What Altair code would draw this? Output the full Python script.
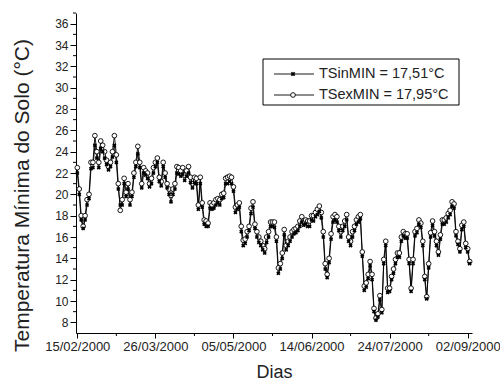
import json
import altair as alt
import pandas as pd

# ---- data ----
tick_days = [0, 40, 80, 120, 160, 200]
tick_labels = ["15/02/2000", "26/03/2000", "05/05/2000", "14/06/2000", "24/07/2000", "02/09/2000"]
minor_x = [20, 60, 100, 140, 180]
y_ticks = list(range(8, 37, 2))
minor_y = list(range(9, 38, 2))
series_names = ["TSinMIN = 17,51°C", "TSexMIN = 17,95°C"]

ts_ex = [
    22.5, 20.5, 18.0, 17.0, 18.0, 19.5, 20.0, 23.0, 23.0, 25.5,
    24.0, 23.0, 25.0, 24.6, 24.0, 23.2, 22.6, 23.0, 24.0, 25.5,
    23.7, 21.0, 18.5, 19.5, 21.5, 20.2, 21.0, 19.5, 20.2, 22.0,
    23.0, 24.5, 23.0, 21.0, 22.5, 22.2, 22.0, 21.0, 21.5, 22.5,
    23.0, 23.4, 21.6, 21.2, 23.0, 22.0, 21.0, 20.5, 19.9, 20.5,
    21.0, 22.6, 22.5, 22.2, 22.5, 21.8, 22.2, 22.6, 21.6, 21.0,
    21.6, 21.5, 19.0, 21.6, 19.2, 17.6, 17.5, 17.3, 19.2, 19.0,
    19.2, 19.5, 19.6, 19.5, 20.0, 20.1, 21.5, 21.6, 21.7, 21.6,
    20.7, 18.8, 19.0, 19.2, 17.0, 15.7, 15.8, 16.5, 17.0, 18.7,
    19.3, 17.2, 16.5, 16.0, 15.6, 15.2, 14.9, 16.0, 16.5, 17.4,
    17.4, 17.4, 16.0, 13.1, 13.5, 14.5, 16.7, 15.2, 15.6, 16.0,
    16.5, 16.7, 16.8, 17.0, 17.5, 17.9, 17.5, 17.6, 17.5, 17.5,
    18.0, 18.0, 18.3, 18.6, 18.9, 18.3, 16.5, 13.5, 12.5, 14.0,
    16.3, 17.9, 18.1, 17.9, 17.0, 16.5, 17.0, 17.5, 18.1, 16.0,
    15.6, 16.5, 17.0, 17.6, 17.9, 18.1, 14.6, 11.4, 11.7, 12.5,
    13.7, 12.5, 9.3, 8.4, 8.8, 10.5, 9.2, 13.9, 15.6, 11.2,
    11.2, 12.3, 13.0, 13.9, 14.5, 14.5, 16.0, 16.5, 16.3, 16.3,
    13.9, 11.2, 13.9, 16.5, 16.8, 17.6, 17.3, 15.6, 12.3, 10.4,
    13.5, 16.4, 17.5, 16.5, 15.6, 14.6, 16.2, 17.6, 17.6, 17.8,
    18.2, 18.5, 19.3, 19.1, 16.5, 15.6, 14.9, 17.1, 17.4, 15.4,
    14.9, 13.7,
]

ts_in = [
    22.0, 20.0, 17.6, 16.8, 17.6, 19.0, 19.6, 22.4, 22.5, 24.6,
    23.4, 22.5, 24.3, 24.0, 23.4, 22.8, 22.3, 22.6, 23.5, 24.6,
    23.0, 20.5, 19.0, 19.0, 21.0, 19.8, 20.5, 19.0, 19.8, 21.6,
    22.6, 23.8, 22.5, 20.6, 22.0, 21.8, 21.5, 20.7, 21.0, 22.0,
    22.6, 23.0, 21.2, 20.8, 22.6, 21.6, 20.6, 20.0, 19.3, 20.0,
    20.5, 22.0, 21.9, 21.7, 21.9, 21.3, 21.7, 22.0, 21.1, 20.6,
    21.1, 21.0, 18.6, 21.0, 18.8, 17.2, 17.0, 17.0, 18.7, 18.6,
    18.7, 19.0, 19.2, 19.0, 19.6, 19.7, 21.0, 21.0, 21.2, 21.0,
    20.3, 18.3, 18.6, 18.8, 16.5, 15.2, 15.4, 16.0, 16.6, 18.2,
    18.8, 16.8, 16.0, 15.5, 15.2, 14.8, 14.5, 15.5, 16.0, 17.0,
    17.0, 16.9, 15.6, 12.6, 13.0, 14.0, 16.2, 14.8, 15.2, 15.6,
    16.0, 16.3, 16.4, 16.6, 17.0, 17.4, 17.1, 17.2, 17.0, 17.0,
    17.6, 17.5, 17.9, 18.1, 18.4, 17.8, 16.0, 13.0, 12.2, 13.6,
    15.8, 17.4, 17.6, 17.4, 16.6, 16.0, 16.6, 17.0, 17.6, 15.6,
    15.2, 16.0, 16.6, 17.2, 17.4, 17.7, 14.2, 11.0, 11.3, 12.1,
    13.3, 12.0, 9.0, 8.2, 8.5, 10.1, 8.9, 13.5, 15.2, 10.8,
    10.9, 12.0, 12.6, 13.5, 14.1, 14.1, 15.6, 16.1, 15.9, 15.9,
    13.5, 10.9, 13.5, 16.1, 16.4, 17.2, 16.9, 15.2, 12.0, 10.2,
    13.1, 16.0, 17.1, 16.1, 15.2, 14.3, 15.8, 17.2, 17.2, 17.4,
    17.8, 18.1, 18.9, 18.7, 16.1, 15.3, 14.6, 16.7, 17.0, 15.0,
    14.6, 13.5,
]

df = pd.DataFrame({"day": list(range(len(ts_ex))), "tsex": ts_ex, "tsin": ts_in})
df_mx = pd.DataFrame({"day": minor_x})
df_my = pd.DataFrame({"tsin": minor_y})
one = pd.DataFrame({"k": [0]})

FONT = "Liberation Sans"
TXT = "#222222"

xscale = alt.Scale(domain=[-0.67, 202.2], nice=False, zero=False)
yscale = alt.Scale(domain=[7, 37], nice=False, zero=False)

label_expr = json.dumps(tick_labels) + "[round(datum.value / 40)]"

x_axis = alt.Axis(
    values=tick_days, labelExpr=label_expr, grid=False,
    tickSize=5, tickColor="black", domainColor="black",
    labelFontSize=13, labelColor=TXT, labelFont=FONT, labelPadding=2,
    title="Dias", titleFontSize=18, titleFont=FONT, titleFontWeight="normal",
    titleColor=TXT, titleBaseline="alphabetic", titleY=44, titleX=198,
)
y_axis = alt.Axis(
    values=y_ticks, grid=False,
    tickSize=6, tickColor="black", domainColor="black",
    labelFontSize=12, labelColor=TXT, labelFont=FONT, labelPadding=2,
    title="Temperatura Mínima do Solo (°C)", titleFontSize=21, titleFont=FONT,
    titleFontWeight="normal", titleColor=TXT, titleBaseline="alphabetic",
    titleX=-48, titleY=182, titleAlign="center",
)

X = alt.X("day:Q", scale=xscale, axis=x_axis)
Y_IN = alt.Y("tsin:Q", scale=yscale, axis=y_axis)
Y_EX = alt.Y("tsex:Q", scale=yscale, axis=y_axis)

base = alt.Chart(df)

line_in = base.mark_line(color="black", strokeWidth=0.9).encode(x=X, y=Y_IN)
line_ex = base.mark_line(color="black", strokeWidth=0.9).encode(x=X, y=Y_EX)
pts_ex = base.mark_point(shape="circle", filled=True, fill="white", stroke="black",
                         strokeWidth=0.9, size=22, opacity=1).encode(x=X, y=Y_EX)
pts_in = base.mark_point(shape="cross", angle=45, filled=True, color="black",
                         size=18, opacity=1).encode(x=X, y=Y_IN)

minor_xt = alt.Chart(df_mx).mark_rule(color="black", strokeWidth=1).encode(
    x=X, y=alt.value(320), y2=alt.value(323),
)
minor_yt = alt.Chart(df_my).mark_rule(color="black", strokeWidth=1).encode(
    y=Y_IN, x=alt.value(-3), x2=alt.value(0),
)

# legend box
leg_box = alt.Chart(one).mark_rect(fill="white", stroke="black", strokeWidth=1).encode(
    x=alt.value(187), x2=alt.value(383), y=alt.value(46), y2=alt.value(92)
)
leg_layers = [leg_box]
for i, (ly, shape) in enumerate([(61, "in"), (82, "ex")]):
    leg_layers.append(alt.Chart(one).mark_rule(color="black", strokeWidth=0.9).encode(
        x=alt.value(198), x2=alt.value(238), y=alt.value(ly)))
    if shape == "in":
        leg_layers.append(alt.Chart(one).mark_point(shape="cross", angle=45, filled=True,
                                                    color="black", size=22, opacity=1).encode(
            x=alt.value(217), y=alt.value(ly)))
    else:
        leg_layers.append(alt.Chart(one).mark_point(shape="circle", filled=True, fill="white",
                                                    stroke="black", strokeWidth=0.9, size=22,
                                                    opacity=1).encode(
            x=alt.value(217), y=alt.value(ly)))
    leg_layers.append(alt.Chart(one).mark_text(text=series_names[i], align="left",
                                               baseline="middle", font=FONT, fontSize=14.5,
                                               color=TXT).encode(
        x=alt.value(243), y=alt.value(ly)))

chart = alt.layer(
    line_in, line_ex, pts_ex, pts_in, minor_xt, minor_yt, *leg_layers
).properties(
    width=396, height=320,
    autosize=alt.AutoSizeParams(type="none"),
    padding={"left": 76, "top": 13, "right": 28, "bottom": 48},
    background="white",
).configure_view(stroke=None)

chart.save("out.html", embed_options={"renderer": "svg", "actions": False})
